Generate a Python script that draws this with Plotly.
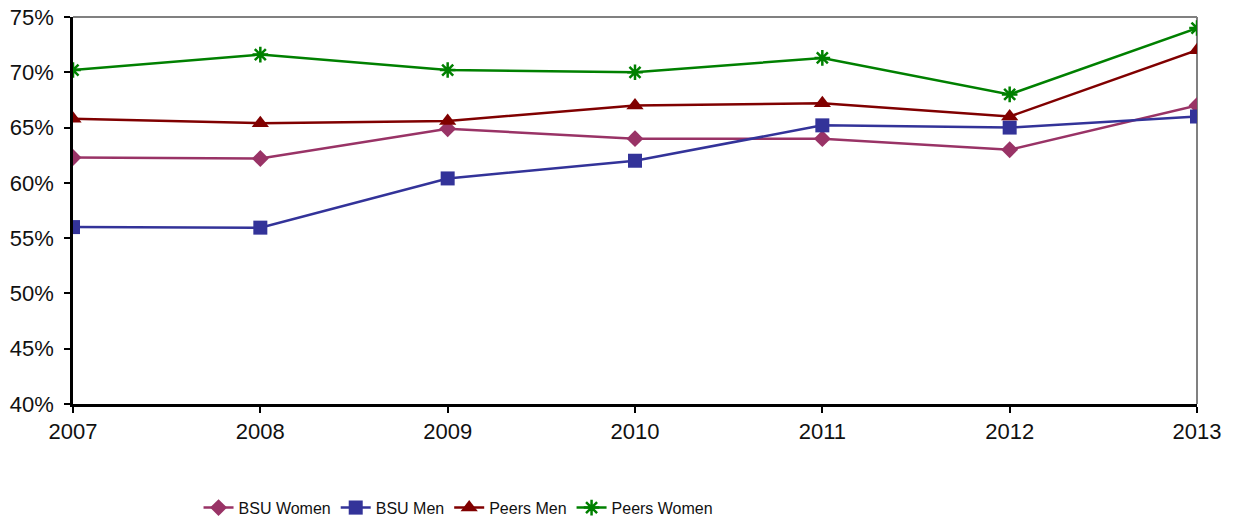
import plotly.graph_objects as go

years = [2007, 2008, 2009, 2010, 2011, 2012, 2013]
bsu_women = [62.3, 62.2, 64.9, 64.0, 64.0, 63.0, 67.0]
bsu_men = [56.0, 55.95, 60.4, 62.0, 65.2, 65.0, 66.0]
peers_men = [65.8, 65.4, 65.6, 67.0, 67.2, 66.0, 72.0]
peers_women = [70.2, 71.6, 70.2, 70.0, 71.3, 68.0, 74.0]
y_ticks = [40, 45, 50, 55, 60, 65, 70, 75]

fig = go.Figure()
fig.add_trace(go.Scatter(x=years, y=bsu_women, name="BSU Women", mode="lines+markers",
                         line=dict(color="#993366", width=2.5),
                         marker=dict(symbol="diamond", size=13, color="#993366")))
fig.add_trace(go.Scatter(x=years, y=bsu_men, name="BSU Men", mode="lines+markers",
                         line=dict(color="#333399", width=2.5),
                         marker=dict(symbol="square", size=14, color="#333399")))
fig.add_trace(go.Scatter(x=years, y=peers_men, name="Peers Men", mode="lines+markers",
                         line=dict(color="#800000", width=2.5),
                         marker=dict(symbol="triangle-up", size=15, color="#800000")))
fig.add_trace(go.Scatter(x=years, y=peers_women, name="Peers Women", mode="lines+markers",
                         line=dict(color="#008000", width=2.5),
                         marker=dict(symbol="asterisk-open", size=13,
                                     line=dict(color="#008000", width=2.5))))

fig.update_layout(
    width=1233, height=521,
    margin=dict(l=73, r=36, t=17, b=117, autoexpand=False),
    plot_bgcolor="white", paper_bgcolor="white",
    font=dict(family="Liberation Sans, Arial, sans-serif", size=21, color="#111111"),
    showlegend=True,
    legend=dict(orientation="h", x=0.343, xanchor="center", y=-0.268, yanchor="middle",
                font=dict(family="Liberation Sans, Arial, sans-serif", size=16),
                itemwidth=30, tracegroupgap=0),
    xaxis=dict(range=[2007, 2013], tickvals=years, ticktext=[str(y) for y in years],
               showgrid=False, zeroline=False, showline=True, linecolor="black",
               linewidth=2.5, ticks="outside", ticklen=6, tickwidth=2, tickcolor="black",
               tickfont=dict(size=22), ticklabeloverflow="allow", automargin=False),
    yaxis=dict(range=[40, 75], tickvals=y_ticks, ticktext=[f"{v}%" for v in y_ticks],
               showgrid=False, zeroline=False, showline=True, linecolor="black",
               linewidth=2.5, ticks="outside", ticklen=6, tickwidth=2, tickcolor="black",
               tickfont=dict(size=22), ticklabelstandoff=6, ticklabeloverflow="allow",
               automargin=False),
    shapes=[
        dict(type="line", xref="paper", yref="paper", x0=0, x1=1, y0=1, y1=1,
             line=dict(color="#808080", width=2), layer="below"),
        dict(type="line", xref="paper", yref="paper", x0=1, x1=1, y0=0, y1=1,
             line=dict(color="#808080", width=2), layer="below"),
    ],
)

fig.write_html("out.html", config={"displayModeBar": False},
               post_script="document.body.style.margin='0';document.body.style.overflow='hidden';")
